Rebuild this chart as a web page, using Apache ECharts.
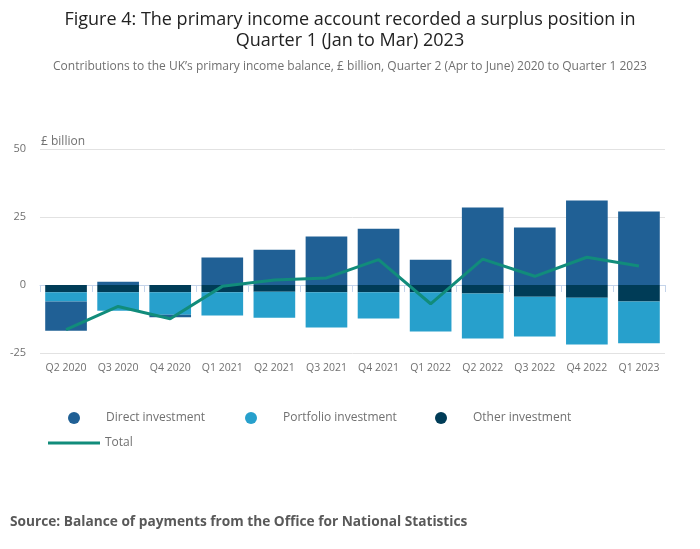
<!DOCTYPE html>
<html>
<head>
<meta charset="utf-8">
<script src="https://cdn.jsdelivr.net/npm/echarts@6/dist/echarts.min.js"></script>
<style>
html, body { margin: 0; padding: 0; background: #fff; }
#main { width: 700px; height: 549px; }
</style>
</head>
<body>
<div id="main"></div>
<script>
var quarters = ['Q2 2020', 'Q3 2020', 'Q4 2020', 'Q1 2021', 'Q2 2021', 'Q3 2021',
    'Q4 2021', 'Q1 2022', 'Q2 2022', 'Q3 2022', 'Q4 2022', 'Q1 2023'];
var directInv = [-10.7, 1.2, -1.0, 10.1, 13.0, 17.8, 20.7, 9.3, 28.5, 21.1, 31.1, 27.0];
var portfolioInv = [-3.4, -6.8, -8.2, -8.5, -9.5, -12.9, -9.6, -14.4, -16.6, -14.6, -17.2, -15.3];
var otherInv = [-2.7, -2.7, -2.7, -2.7, -2.5, -2.7, -2.7, -2.7, -3.1, -4.3, -4.7, -6.1];
var total = [-16.4, -7.9, -12.4, -0.5, 1.8, 2.6, 9.3, -6.9, 9.5, 3.2, 10.2, 7.0];

var font = '"Open Sans", sans-serif';

var myChart = echarts.init(document.getElementById('main'));

function legendItem(name, left, top, extra) {
    var l = {
        data: [name],
        left: left,
        top: top,
        padding: 0,
        icon: 'circle',
        itemWidth: 12,
        itemHeight: 12,
        selectedMode: false,
        textStyle: { color: '#707070', fontSize: 12, fontFamily: font, padding: [0, 0, 0, 21] }
    };
    for (var k in extra) l[k] = extra[k];
    return l;
}

var option = {
    animation: false,
    title: [{
        text: 'Figure 4: The primary income account recorded a surplus position in\nQuarter 1 (Jan to Mar) 2023',
        left: 'center',
        top: 4,
        textStyle: { color: '#222', fontSize: 18, fontWeight: 'normal', fontFamily: font, lineHeight: 21 }
    }, {
        text: 'Contributions to the UK\u2019s primary income balance, \u00a3 billion, Quarter 2 (Apr to June) 2020 to Quarter 1 2023',
        left: 'center',
        top: 56,
        textStyle: { color: '#707070', fontSize: 12, fontWeight: 'normal', fontFamily: font }
    }],
    legend: [
        legendItem('Direct investment', 68, 412),
        legendItem('Portfolio investment', 245, 412),
        legendItem('Other investment', 435, 412),
        legendItem('Total', 48, 437, {
            icon: 'rect', itemWidth: 52, itemHeight: 3,
            textStyle: { color: '#707070', fontSize: 12, fontFamily: font }
        })
    ],
    grid: { left: 40, right: 35, top: 149, bottom: 196 },
    xAxis: {
        type: 'category',
        data: quarters,
        axisLine: { lineStyle: { color: '#c5d4ea', width: 1 } },
        axisTick: { show: true, length: 7, lineStyle: { color: '#c5d4ea' } },
        axisLabel: { color: '#707070', fontSize: 10.5, fontFamily: font, margin: 10, interval: 0 }
    },
    yAxis: {
        type: 'value',
        min: -25,
        max: 50,
        interval: 25,
        name: '\u00a3 billion',
        nameLocation: 'end',
        nameGap: 1,
        nameTextStyle: { color: '#707070', fontSize: 12, fontFamily: font, align: 'left', padding: [0, 0, 0, 1] },
        axisLine: { show: false },
        axisTick: { show: false },
        axisLabel: { color: '#707070', fontSize: 11, fontFamily: font, margin: 14 },
        splitLine: { lineStyle: { color: '#e2e2e2' } }
    },
    series: [{
        name: 'Other investment',
        type: 'bar',
        stack: 'inv',
        barCategoryGap: '20%',
        itemStyle: { color: '#003c57' },
        data: otherInv
    }, {
        name: 'Portfolio investment',
        type: 'bar',
        stack: 'inv',
        itemStyle: { color: '#27a0cc' },
        data: portfolioInv
    }, {
        name: 'Direct investment',
        type: 'bar',
        stack: 'inv',
        itemStyle: { color: '#206095' },
        data: directInv
    }, {
        name: 'Total',
        type: 'line',
        showSymbol: false,
        symbol: 'none',
        itemStyle: { color: '#118c7b' },
        lineStyle: { color: '#118c7b', width: 3 },
        data: total
    }],
    graphic: [{
        type: 'text',
        left: 10,
        top: 515,
        style: {
            text: 'Source: Balance of payments from the Office for National Statistics',
            fill: '#595959',
            font: 'bold 13.7px "Open Sans", sans-serif'
        }
    }]
};

myChart.setOption(option);

window.onresize = function () {
    myChart.resize();
};
</script>
</body>
</html>
